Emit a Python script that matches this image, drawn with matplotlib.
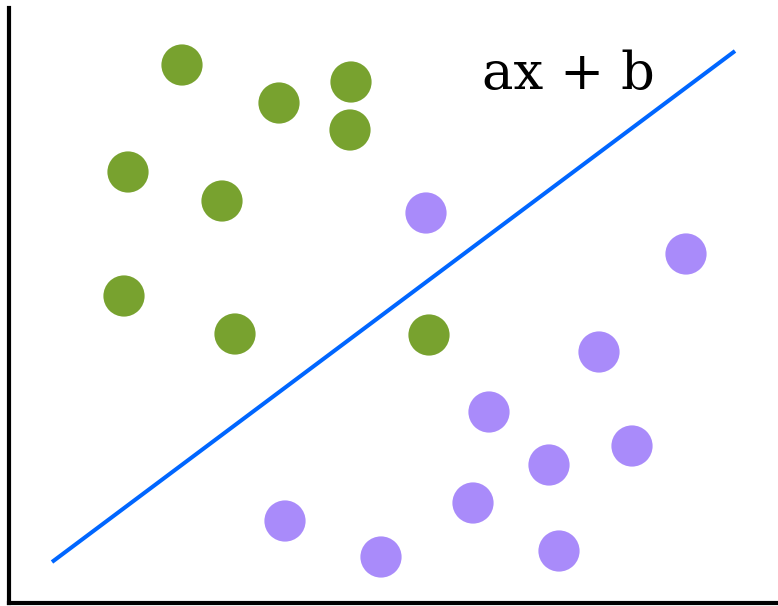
import matplotlib
matplotlib.use("Agg")
import matplotlib.pyplot as plt

# point positions (x right, y up)
green_x = [173, 270, 342, 341, 119, 213, 115, 226, 420]
green_y = [538, 500, 521, 473, 431, 402, 307, 269, 268]
purple_x = [417, 677, 590, 480, 623, 540, 464, 276, 372, 550]
purple_y = [390, 349, 251, 191, 157, 138, 100, 82, 46, 52]

# the decision line ax + b
line_x = [43, 726]
line_y = [41, 552]

fig = plt.figure(figsize=(7.78, 6.06), dpi=100)
ax = fig.add_axes([9 / 778, 3 / 606, 769 / 778, 595 / 606])
ax.set_xlim(0, 769)
ax.set_ylim(0, 595)

ax.plot(line_x, line_y, color="#0066ff", lw=2.9, solid_capstyle="butt", zorder=1)
ax.scatter(green_x, green_y, s=880, color="#78a22f", edgecolors="none", zorder=2)
ax.scatter(purple_x, purple_y, s=880, color="#a98bfa", edgecolors="none", zorder=2)

ax.text(473, 528, "ax + b", fontsize=38, family="DejaVu Serif", va="center", ha="left")

for s in ["top", "right"]:
    ax.spines[s].set_visible(False)
ax.spines["left"].set_linewidth(3)
ax.spines["bottom"].set_linewidth(3)
ax.set_xticks([])
ax.set_yticks([])

fig.savefig("out.png", dpi=100)
